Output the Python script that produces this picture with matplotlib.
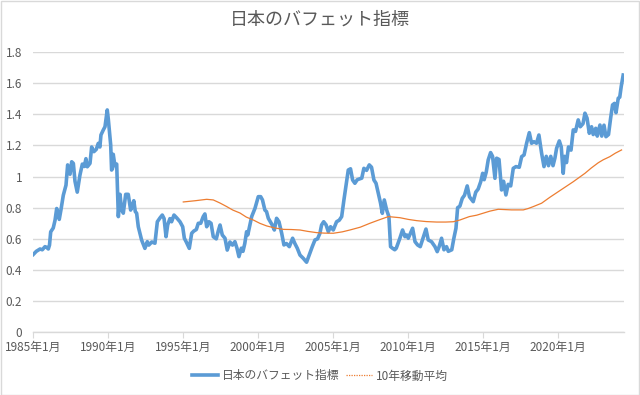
import matplotlib
matplotlib.use("Agg")
import matplotlib.pyplot as plt
from matplotlib.lines import Line2D
from matplotlib.patches import Rectangle

plt.rcParams['font.family'] = ['Noto Sans CJK JP', 'DejaVu Sans']

# 日本のバフェット指標 (year fraction, value)
buffett_x = [
    1985.00, 1985.20, 1985.45, 1985.60, 1985.78, 1985.90, 1986.00, 1986.08, 1986.16, 1986.33,
    1986.45, 1986.56, 1986.65, 1986.73, 1986.85, 1987.00, 1987.18, 1987.29, 1987.38, 1987.45,
    1987.56, 1987.67, 1987.78, 1987.93, 1988.11, 1988.27, 1988.40, 1988.51, 1988.60, 1988.78,
    1988.89, 1989.04, 1989.20, 1989.33, 1989.44, 1989.51, 1989.67, 1989.78, 1989.93, 1990.00,
    1990.16, 1990.22, 1990.28, 1990.33, 1990.44, 1990.56, 1990.67, 1990.78, 1990.89, 1991.00,
    1991.16, 1991.33, 1991.49, 1991.62, 1991.70, 1991.80, 1991.89, 1992.00, 1992.22, 1992.44,
    1992.60, 1992.70, 1992.90, 1993.11, 1993.27, 1993.45, 1993.60, 1993.72, 1993.85, 1993.96,
    1994.11, 1994.22, 1994.38, 1994.56, 1994.78, 1994.96, 1995.07, 1995.20, 1995.40, 1995.56,
    1995.70, 1995.87, 1996.00, 1996.16, 1996.33, 1996.44, 1996.56, 1996.71, 1996.85, 1997.00,
    1997.20, 1997.33, 1997.45, 1997.60, 1997.78, 1997.93, 1998.11, 1998.28, 1998.44, 1998.58,
    1998.71, 1998.87, 1998.98, 1999.10, 1999.22, 1999.30, 1999.56, 1999.78, 2000.00, 2000.16,
    2000.28, 2000.44, 2000.55, 2000.67, 2000.80, 2000.93, 2001.07, 2001.22, 2001.38, 2001.56,
    2001.71, 2001.88, 2002.07, 2002.29, 2002.44, 2002.60, 2002.78, 2003.00, 2003.22, 2003.44,
    2003.60, 2003.78, 2003.95, 2004.11, 2004.22, 2004.36, 2004.52, 2004.67, 2004.82, 2005.00,
    2005.22, 2005.40, 2005.56, 2005.71, 2005.84, 2006.00, 2006.15, 2006.29, 2006.44, 2006.60,
    2006.90, 2007.04, 2007.22, 2007.40, 2007.55, 2007.71, 2007.85, 2008.00, 2008.15, 2008.27,
    2008.40, 2008.56, 2008.71, 2008.82, 2008.96, 2009.10, 2009.20, 2009.44, 2009.62, 2009.78,
    2009.90, 2010.00, 2010.29, 2010.45, 2010.62, 2010.80, 2010.98, 2011.18, 2011.33, 2011.55,
    2011.78, 2011.93, 2012.06, 2012.22, 2012.38, 2012.55, 2012.67, 2012.90, 2013.04, 2013.18,
    2013.29, 2013.44, 2013.60, 2013.75, 2013.93, 2014.08, 2014.33, 2014.50, 2014.66, 2014.83,
    2014.96, 2015.06, 2015.20, 2015.33, 2015.49, 2015.62, 2015.78, 2015.89, 2016.05, 2016.22,
    2016.35, 2016.51, 2016.66, 2016.83, 2017.00, 2017.18, 2017.40, 2017.56, 2017.72, 2017.89,
    2018.07, 2018.22, 2018.38, 2018.55, 2018.71, 2018.89, 2019.05, 2019.20, 2019.35, 2019.50,
    2019.65, 2019.78, 2019.89, 2020.07, 2020.20, 2020.33, 2020.42, 2020.55, 2020.68, 2020.85,
    2021.00, 2021.15, 2021.33, 2021.47, 2021.65, 2021.78, 2021.92, 2022.07, 2022.22, 2022.33,
    2022.50, 2022.60, 2022.78, 2022.90, 2023.05, 2023.18, 2023.35, 2023.49, 2023.62, 2023.75,
    2023.85, 2024.00, 2024.10, 2024.20, 2024.33,
]
buffett_y = [
    0.50, 0.52, 0.535, 0.53, 0.55, 0.545, 0.535, 0.56, 0.645, 0.67,
    0.72, 0.795, 0.76, 0.725, 0.79, 0.88, 0.945, 1.075, 1.04, 1.015,
    1.095, 1.085, 0.97, 0.90, 1.01, 1.08, 1.065, 1.115, 1.063, 1.085,
    1.19, 1.16, 1.175, 1.213, 1.19, 1.267, 1.30, 1.32, 1.428, 1.37,
    1.203, 1.042, 1.05, 1.143, 1.07, 1.08, 0.743, 0.886, 0.785, 0.765,
    0.886, 0.886, 0.785, 0.82, 0.845, 0.775, 0.765, 0.678, 0.593, 0.539,
    0.582, 0.56, 0.58, 0.572, 0.71, 0.735, 0.753, 0.73, 0.614, 0.69,
    0.73, 0.71, 0.753, 0.735, 0.71, 0.678, 0.604, 0.58, 0.539, 0.636,
    0.65, 0.66, 0.70, 0.70, 0.743, 0.76, 0.678, 0.71, 0.70, 0.614,
    0.60, 0.65, 0.689, 0.625, 0.604, 0.528, 0.58, 0.56, 0.582, 0.54,
    0.486, 0.54, 0.52, 0.57, 0.646, 0.625, 0.743, 0.796, 0.871, 0.871,
    0.85, 0.785, 0.775, 0.732, 0.71, 0.689, 0.657, 0.732, 0.71, 0.636,
    0.561, 0.57, 0.55, 0.604, 0.57, 0.54, 0.496, 0.475, 0.45, 0.507,
    0.55, 0.593, 0.60, 0.636, 0.689, 0.71, 0.69, 0.646, 0.678, 0.657,
    0.71, 0.72, 0.743, 0.85, 0.935, 1.042, 1.05, 0.978, 0.957, 0.98,
    0.99, 1.053, 1.04, 1.075, 1.06, 0.978, 0.957, 0.893, 0.83, 0.764,
    0.85, 0.785, 0.743, 0.55, 0.539, 0.53, 0.54, 0.604, 0.657, 0.614,
    0.625, 0.604, 0.668, 0.582, 0.561, 0.55, 0.604, 0.663, 0.593, 0.582,
    0.55, 0.518, 0.55, 0.604, 0.53, 0.55, 0.52, 0.53, 0.604, 0.668,
    0.80, 0.81, 0.86, 0.88, 0.94, 0.87, 0.839, 0.90, 0.92, 0.967,
    1.021, 0.98, 1.03, 1.107, 1.154, 1.13, 0.989, 1.118, 1.11, 0.914,
    0.97, 0.882, 0.95, 0.94, 1.053, 1.064, 1.06, 1.128, 1.139, 1.214,
    1.282, 1.214, 1.224, 1.214, 1.267, 1.15, 1.064, 1.13, 1.07, 1.13,
    1.07, 1.12, 1.182, 1.229, 1.19, 1.021, 1.13, 1.09, 1.19, 1.17,
    1.30, 1.29, 1.364, 1.32, 1.34, 1.407, 1.375, 1.278, 1.32, 1.27,
    1.31, 1.26, 1.331, 1.26, 1.33, 1.256, 1.27, 1.374, 1.46, 1.47,
    1.41, 1.503, 1.51, 1.58, 1.652,
]

# 10年移動平均 (year fraction, value)
ma_x = [
    1995.00, 1995.80, 1996.56, 1997.00, 1997.45, 1997.90, 1998.30, 1998.78, 1999.20, 1999.67,
    2000.10, 2000.56, 2001.10, 2001.67, 2002.20, 2002.78, 2003.30, 2003.89, 2004.40, 2005.00,
    2005.60, 2006.11, 2006.80, 2007.44, 2008.00, 2008.67, 2009.44, 2010.00, 2010.56, 2011.20,
    2011.89, 2012.50, 2013.00, 2013.44, 2014.07, 2014.56, 2015.00, 2015.44, 2016.00, 2016.89,
    2017.67, 2018.00, 2018.33, 2018.89, 2019.44, 2020.11, 2020.50, 2021.00, 2021.78, 2022.20,
    2022.67, 2023.00, 2023.44, 2023.80, 2024.22,
]
ma_y = [
    0.837, 0.845, 0.854, 0.85, 0.83, 0.807, 0.785, 0.766, 0.74, 0.721,
    0.70, 0.683, 0.67, 0.661, 0.66, 0.657, 0.648, 0.64, 0.637, 0.636,
    0.645, 0.657, 0.675, 0.70, 0.72, 0.743, 0.736, 0.725, 0.717, 0.711,
    0.708, 0.708, 0.71, 0.721, 0.743, 0.752, 0.765, 0.778, 0.79, 0.786,
    0.786, 0.795, 0.807, 0.829, 0.867, 0.91, 0.935, 0.967, 1.021, 1.055,
    1.089, 1.108, 1.128, 1.15, 1.171,
]

tick_years = [1985, 1990, 1995, 2000, 2005, 2010, 2015, 2020]
tick_labels = ["1985年1月", "1990年1月", "1995年1月", "2000年1月", "2005年1月",
               "2010年1月", "2015年1月", "2020年1月"]
y_ticks = [0, 0.2, 0.4, 0.6, 0.8, 1.0, 1.2, 1.4, 1.6, 1.8]
y_labels = ["0", "0.2", "0.4", "0.6", "0.8", "1", "1.2", "1.4", "1.6", "1.8"]

title = "日本のバフェット指標"
name1 = "日本のバフェット指標"
name2 = "10年移動平均"

blue = "#5B9BD5"
orange = "#ED7D31"
txt = "#595959"
grid = "#D9D9D9"

fig = plt.figure(figsize=(6.4, 3.95), dpi=100)
fig.patches.append(Rectangle((0.001, 0.001), 0.997, 0.997, transform=fig.transFigure,
                             fill=False, edgecolor="#D9D9D9", linewidth=1))
ax = fig.add_axes([33.3 / 640, 1 - 332.3 / 395, (623.5 - 33.3) / 640, (332.3 - 52.0) / 395])

ax.plot(buffett_x, buffett_y, color=blue, linewidth=2.6, solid_joinstyle="round", zorder=3)
ax.plot(ma_x, ma_y, color=orange, linewidth=0.9, zorder=4)

ax.set_xlim(1985.0, 2024.35)
ax.set_ylim(0, 1.8)
ax.set_yticks(y_ticks)
ax.set_yticklabels(y_labels)
ax.set_xticks(tick_years)
ax.set_xticklabels(tick_labels)
ax.grid(axis="y", color=grid, linewidth=1)
ax.set_axisbelow(True)
for s in ["top", "right", "left"]:
    ax.spines[s].set_visible(False)
ax.spines["bottom"].set_color(grid)
ax.spines["bottom"].set_linewidth(1)
ax.tick_params(axis="y", length=0, labelsize=8.5, labelcolor=txt, pad=8)
ax.tick_params(axis="x", length=4, color=grid, labelsize=8.5, labelcolor=txt, pad=2)

fig.text(0.5, 1 - 20 / 395, title, ha="center", va="center", fontsize=13, color=txt)

handles = [Line2D([], [], color=blue, linewidth=2.6),
           Line2D([], [], color=orange, linewidth=0.9, linestyle=(0, (1, 1)))]
fig.legend(handles, [name1, name2], loc="center", bbox_to_anchor=(0.5, 1 - 376 / 395),
           ncol=2, frameon=False, fontsize=8.5, labelcolor=txt, handlelength=2.2,
           handletextpad=0.3, columnspacing=0.6)

fig.savefig("out.png", dpi=100)
